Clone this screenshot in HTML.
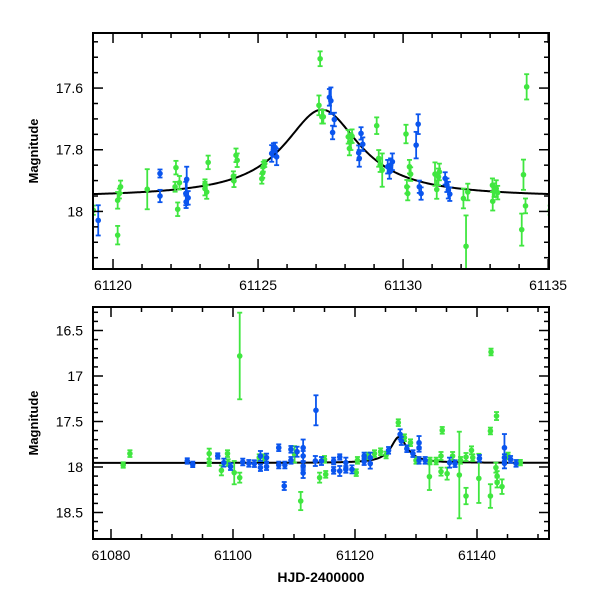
<!DOCTYPE html>
<html><head><meta charset="utf-8"><style>
body{margin:0;background:#fff;}
svg{display:block;font-family:"Liberation Sans",sans-serif;}
</style></head><body>
<svg id="chart" width="600" height="600" viewBox="0 0 600 600"></svg>
<script>
// ---------- data: top panel (zoom) ----------
const topGreenDay=[61119.32,61120.16,61120.16,61120.22,61120.26,61121.18,61122.17,61122.14,61122.23,61122.29,61123.17,61123.23,61123.17,61123.28,61124.15,61124.17,61124.24,61124.28,61125.13,61125.16,61125.18,61125.23,61127.10,61127.14,61127.20,61127.25,61128.11,61128.15,61128.20,61128.24,61129.09,61129.16,61129.21,61129.28,61130.10,61130.13,61130.16,61130.22,61130.26,61131.10,61131.16,61131.22,61131.25,61132.08,61132.17,61132.23,61133.08,61133.09,61133.14,61133.21,61133.26,61134.09,61134.15,61134.22,61134.26,61135.07];
const topGreenMag=[17.996,17.964,18.077,17.942,17.920,17.928,17.858,17.920,17.993,17.907,17.926,17.937,17.912,17.841,17.886,17.901,17.818,17.834,17.894,17.875,17.855,17.845,17.656,17.505,17.693,17.693,17.758,17.796,17.774,17.756,17.722,17.828,17.850,17.866,17.749,17.920,17.942,17.855,17.879,17.879,17.929,17.888,17.872,17.958,18.113,17.937,17.915,17.967,17.931,17.926,17.939,18.059,17.881,17.982,17.596,17.996];
const topGreenErr=[0.015,0.027,0.030,0.016,0.020,0.065,0.022,0.016,0.022,0.022,0.022,0.022,0.016,0.022,0.016,0.020,0.022,0.022,0.016,0.016,0.016,0.011,0.032,0.024,0.022,0.022,0.022,0.022,0.027,0.022,0.027,0.027,0.022,0.054,0.030,0.022,0.022,0.022,0.022,0.038,0.030,0.027,0.027,0.032,0.100,0.027,0.022,0.030,0.022,0.027,0.022,0.052,0.049,0.024,0.041,0.015];
const topBlueDay=[61119.49,61121.62,61121.62,61122.51,61122.54,61122.52,61122.59,61125.47,61125.53,61125.59,61125.64,61127.46,61127.51,61127.57,61127.63,61128.47,61128.49,61128.55,61128.61,61129.47,61129.53,61129.57,61129.63,61130.45,61130.52,61130.56,61130.62,61131.45,61131.51,61131.56,61131.61];
const topBlueMag=[18.029,17.877,17.950,17.942,17.896,17.969,17.956,17.812,17.801,17.793,17.823,17.630,17.641,17.744,17.702,17.810,17.828,17.747,17.782,17.855,17.872,17.850,17.839,17.785,17.717,17.920,17.942,17.893,17.915,17.931,17.944];
const topBlueErr=[0.049,0.013,0.020,0.038,0.041,0.020,0.022,0.027,0.022,0.016,0.027,0.027,0.043,0.022,0.022,0.024,0.027,0.020,0.022,0.022,0.022,0.022,0.027,0.043,0.032,0.020,0.020,0.020,0.022,0.027,0.022];
// ---------- data: bottom panel (full season) ----------
const botGreenDay=[61082.0,61083.1,61096.1,61096.1,61098.1,61099.1,61099.2,61100.2,61101.1,61101.1,61104.3,61105.1,61110.1,61111.1,61114.2,61115.0,61115.2,61120.2,61120.4,61122.1,61123.2,61124.2,61125.1,61127.1,61128.1,61129.1,61130.0,61132.2,61132.3,61133.3,61134.1,61134.1,61134.3,61135.1,61136.0,61137.1,61137.3,61138.2,61138.2,61139.1,61139.3,61140.3,61142.2,61142.3,61142.2,61143.1,61143.2,61143.3,61143.3,61144.1,61145.1,61147.1];
const botGreenMag=[17.978,17.853,17.853,17.952,18.037,17.853,17.952,18.062,16.780,18.117,17.897,17.897,17.861,18.374,18.117,17.916,18.081,18.062,17.927,17.879,17.853,17.832,17.868,17.513,17.678,17.733,17.927,18.106,17.934,17.934,17.879,18.051,17.597,18.073,17.879,18.088,17.927,18.319,17.890,17.817,17.897,18.125,18.319,16.736,17.604,18.007,17.440,18.100,18.170,18.216,17.879,17.952];
const botGreenErr=[0.03,0.037,0.055,0.037,0.055,0.037,0.037,0.128,0.476,0.055,0.037,0.037,0.09,0.10,0.055,0.037,0.037,0.037,0.037,0.037,0.037,0.037,0.037,0.037,0.037,0.037,0.037,0.147,0.037,0.037,0.044,0.044,0.037,0.066,0.044,0.476,0.037,0.09,0.044,0.044,0.037,0.27,0.13,0.037,0.037,0.055,0.044,0.055,0.055,0.08,0.037,0.03];
const botBlueDay=[61092.5,61093.4,61097.5,61098.5,61099.6,61101.6,61102.6,61103.5,61104.5,61104.5,61105.5,61105.5,61107.5,61107.5,61108.4,61108.5,61109.5,61109.5,61110.5,61111.5,61111.5,61111.5,61111.5,61113.6,61113.5,61114.5,61116.5,61116.5,61117.5,61117.5,61118.5,61118.5,61119.5,61121.5,61121.5,61122.5,61122.5,61125.5,61127.4,61127.6,61128.5,61129.5,61130.5,61130.5,61130.5,61131.5,61135.5,61136.4,61140.4,61144.5,61144.5,61144.5,61145.5,61146.4];
const botBlueMag=[17.934,17.971,17.879,17.952,17.996,17.945,17.960,17.963,17.879,18.007,17.897,17.996,17.788,17.978,18.209,17.978,17.806,17.927,17.832,17.788,17.879,17.989,18.066,17.377,17.934,17.934,17.934,18.037,17.890,18.044,17.952,18.026,18.026,17.879,17.941,17.897,17.963,17.817,17.641,17.714,17.799,17.853,17.733,17.788,17.927,17.927,17.952,17.963,17.905,17.788,17.897,17.960,17.916,17.960];
const botBlueErr=[0.03,0.03,0.03,0.044,0.037,0.037,0.037,0.037,0.055,0.037,0.044,0.037,0.037,0.037,0.044,0.037,0.037,0.037,0.055,0.09,0.055,0.044,0.055,0.165,0.055,0.044,0.037,0.037,0.03,0.055,0.055,0.037,0.044,0.037,0.037,0.055,0.055,0.037,0.055,0.044,0.037,0.037,0.073,0.044,0.037,0.037,0.055,0.037,0.037,0.15,0.037,0.055,0.037,0.037];
// model parameters
const modelBase=[17.955];
const modelPeak=[61127.2];
const modelAmp=[0.285];
const modelWidth=[1.6];
const topXTicks=[61120,61125,61130,61135];
const topYTicks=[17.6,17.8,18];
const botXTicks=[61080,61100,61120,61140];
const botYTicks=[16.5,17,17.5,18,18.5];

const NS="http://www.w3.org/2000/svg";
const svg=document.getElementById('chart');
const GREEN="#40e640", BLUE="#0a55ee";
function mk(tag,attrs,parent){const e=document.createElementNS(NS,tag);for(const k in attrs)e.setAttribute(k,attrs[k]);(parent||svg).appendChild(e);return e;}

const P1={x0:93,x1:549,y0:33,y1:269,dmin:61119.31,dmax:61135.03,mTop:17.6-55/308,mBot:18+57.5/308};
const P2={x0:93,x1:549,y0:307,y1:539,dmin:61080-18/6.1,dmax:61080+438/6.1,mTop:18-160/91,mBot:18+72/91};
function xs(P,d){return P.x0+(d-P.dmin)/(P.dmax-P.dmin)*(P.x1-P.x0);}
function ys(P,m){return P.y0+(m-P.mTop)/(P.mBot-P.mTop)*(P.y1-P.y0);}
function model(t){const u=(t-modelPeak[0])/modelWidth[0];return modelBase[0]-modelAmp[0]/(1+u*u);}

function panel(P,name,xt,xMinorStep,xMajorEvery,yt,yMinor,yMajor,gd,gm,ge,bd,bm,be){
  const g=mk('g',{});
  
  
  mk('defs',{},g).innerHTML=`<clipPath id="clip-${name}"><rect x="${P.x0}" y="${P.y0}" width="${P.x1-P.x0}" height="${P.y1-P.y0}"/></clipPath>`;
  const plot=mk('g',{'clip-path':`url(#clip-${name})`},g);
  
  
  let d='';for(let i=0;i<=400;i++){const t=P.dmin+(P.dmax-P.dmin)*i/400;d+=(i?'L':'M')+xs(P,t).toFixed(2)+' '+ys(P,model(t)).toFixed(2);}
  const c=mk('path',{d:d,fill:'none',stroke:'#000','stroke-width':2},plot);
  
  
  function series(days,mags,errs,col,sname){
    const sg=mk('g',{},plot);
    
    
    for(let i=0;i<days.length;i++){
      const x=xs(P,days[i]),y=ys(P,mags[i]),ya=ys(P,mags[i]-errs[i]),yb=ys(P,mags[i]+errs[i]);
      const pg=mk('g',{stroke:col,'stroke-width':1.8,fill:col},sg);
      
      
      mk('line',{x1:x,y1:ya,x2:x,y2:yb},pg);
      mk('line',{x1:x-2.5,y1:ya,x2:x+2.5,y2:ya},pg);
      mk('line',{x1:x-2.5,y1:yb,x2:x+2.5,y2:yb},pg);
      mk('circle',{cx:x,cy:y,r:2.4,'stroke-width':0.8},pg);
    }
  }
  series(gd,gm,ge,GREEN,'green-series');
  series(bd,bm,be,BLUE,'blue-series');
  const fr=mk('rect',{x:P.x0,y:P.y0,width:P.x1-P.x0,height:P.y1-P.y0,fill:'none',stroke:'#000','stroke-width':2},g);
  
  
  const tk=mk('g',{stroke:'#000','stroke-width':1.5},g);
  
  
  const s0=Math.ceil(P.dmin/xMinorStep)*xMinorStep;
  for(let v=s0;v<=P.dmax;v+=xMinorStep){
    const x=xs(P,v);const major=Math.abs(Math.round(v/xMajorEvery)*xMajorEvery-v)<1e-6;const L=major?10:5;
    mk('line',{x1:x,y1:P.y1,x2:x,y2:P.y1-L},tk);mk('line',{x1:x,y1:P.y0,x2:x,y2:P.y0+L},tk);
  }
  const m0=Math.ceil(P.mTop/yMinor-1e-6)*yMinor;
  for(let v=m0;v<=P.mBot;v+=yMinor){
    const y=ys(P,v);const major=Math.abs(Math.round(v/yMajor)*yMajor-v)<1e-6;const L=major?10:5;
    mk('line',{x1:P.x0,y1:y,x2:P.x0+L,y2:y},tk);mk('line',{x1:P.x1,y1:y,x2:P.x1-L,y2:y},tk);
  }
  xt.forEach(v=>{const t=mk('text',{x:xs(P,v),y:P.y1+21,'text-anchor':'middle','font-size':14},g);t.textContent=v;
    
    });
  yt.forEach(v=>{const t=mk('text',{x:P.x0-10,y:ys(P,v)+5,'text-anchor':'end','font-size':14},g);t.textContent=v;
    
    });
  const yl=mk('text',{x:0,y:0,transform:`translate(38,${(P.y0+P.y1)/2}) rotate(-90)`,'text-anchor':'middle','font-size':13,'font-weight':'bold'},g);
  yl.textContent='Magnitude';
  
  
}
panel(P1,'top-panel',topXTicks,1,5,topYTicks,0.05,0.2,topGreenDay,topGreenMag,topGreenErr,topBlueDay,topBlueMag,topBlueErr);
panel(P2,'bottom-panel',botXTicks,5,20,botYTicks,0.1,0.5,botGreenDay,botGreenMag,botGreenErr,botBlueDay,botBlueMag,botBlueErr);
const xl=mk('text',{x:321,y:582,'text-anchor':'middle','font-size':14,'font-weight':'bold'});
xl.textContent='HJD-2400000';


</script>
</body></html>
